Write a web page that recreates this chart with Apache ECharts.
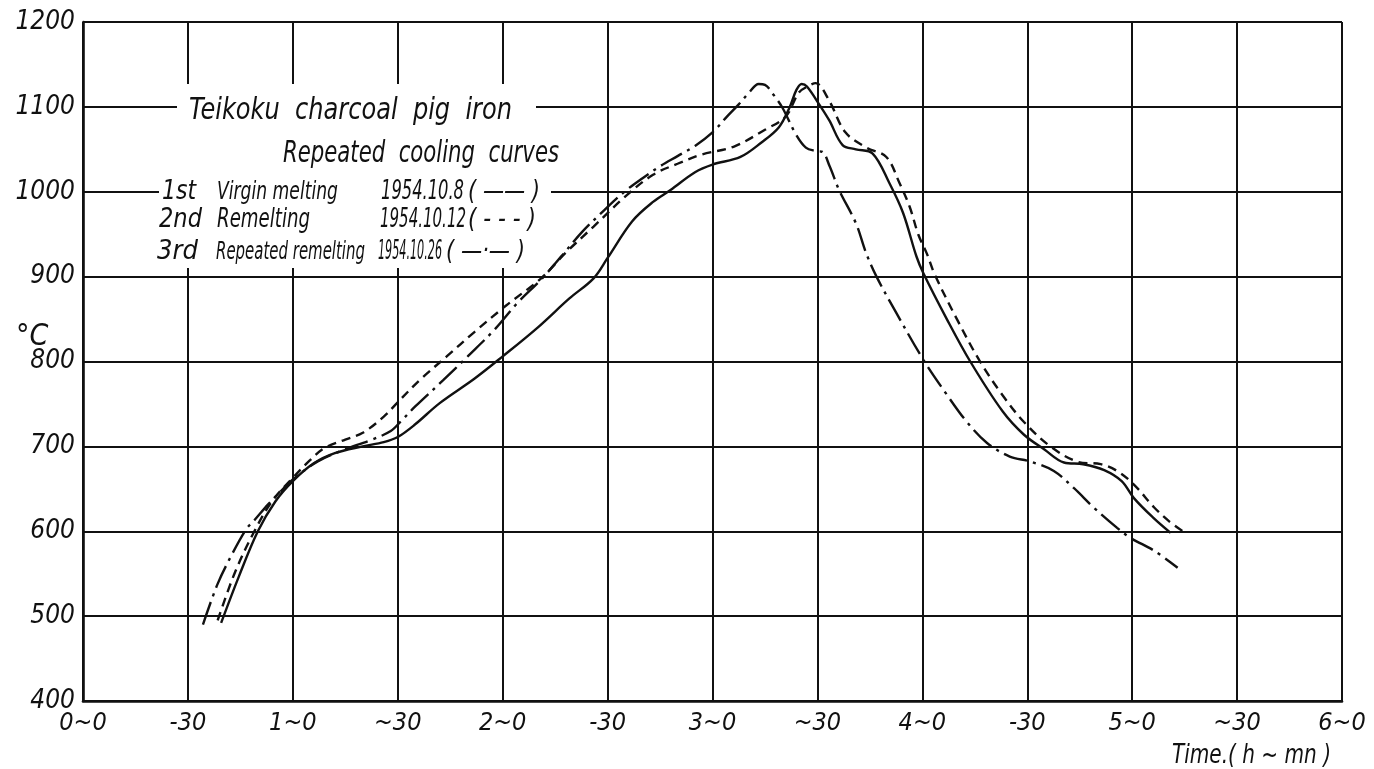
<!DOCTYPE html>
<html>
<head>
<meta charset="utf-8">
<title>Teikoku charcoal pig iron - repeated cooling curves</title>
<script src="https://cdn.jsdelivr.net/npm/echarts@6/dist/echarts.min.js"></script>
<style>
  html, body { margin: 0; padding: 0; background: #fff; }
  #chart { width: 1374px; height: 769px; }
</style>
</head>
<body>
<div id="chart"></div>
<script>
// time in minutes from start, temperature in °C
const t1st = [39.5, 44.5, 50, 55, 60, 66, 72, 80, 86, 90, 95, 102, 112, 120, 130, 139, 146, 150, 157, 163, 168, 175, 180, 188, 194, 199, 202, 204, 205.5, 207, 210.5, 213.4, 217.2, 221, 225.8, 230.6, 234.5, 238.3, 240.3, 247, 253.7, 263, 269, 275, 280.5, 286, 292, 297, 300.5, 306, 311];
const c1st = [492, 546, 600, 635, 659, 680, 692, 700, 705, 711, 726, 751, 780, 806, 840, 874, 898, 922, 965, 988, 1002, 1023, 1032, 1041, 1058, 1076, 1099, 1120, 1127, 1124, 1103, 1084, 1055, 1050, 1045, 1010, 975, 924, 904, 850, 800, 741, 714, 696, 681, 679, 672, 659, 639, 616, 598];

const t2nd = [38.5, 43.5, 49, 54, 60, 65, 69, 75, 80, 86, 90, 96.5, 104, 112, 121, 131, 138, 146, 155.5, 163, 170, 177, 186, 195, 201, 204.7, 207.6, 209.5, 213.4, 218, 224, 229.7, 233.5, 236.4, 238.9, 241.2, 243.6, 250, 256.5, 263, 269, 276.6, 284.3, 291, 295.7, 300.5, 306.3, 310.5, 314.5];
const c2nd = [495, 552, 600, 635, 663, 684, 698, 708, 716, 735, 752, 779, 806, 835, 866, 898, 928, 959, 996, 1020, 1033, 1044, 1053, 1073, 1089, 1117, 1125, 1128, 1107, 1070, 1052, 1041, 1010, 982, 949, 928, 902, 849, 800, 760, 729, 700, 682, 679, 671, 655, 628, 612, 600];

const t3rd = [34.3, 38.5, 42.5, 46.6, 49, 53, 57.5, 60, 67, 74.6, 82, 88, 91, 95, 103, 110, 118, 124, 131.3, 137, 142.8, 149, 154.8, 160, 165, 170, 175, 180, 184, 187.5, 190.5, 193.2, 195, 197.5, 200, 203.8, 206.7, 209.5, 211.4, 213.5, 216.2, 221, 223.9, 226.9, 232.6, 240.3, 247, 252.7, 258.5, 265, 271, 277.6, 283.3, 289, 295.7, 299.6, 306.3, 313];
const c3rd = [490, 538, 572, 602, 613, 632, 651, 661, 682, 696, 707, 718, 730, 747, 778, 806, 839, 868, 898, 925, 953, 978, 1000, 1016, 1030, 1042, 1054, 1070, 1088, 1103, 1117, 1127, 1126, 1114, 1099, 1068, 1052, 1048, 1047, 1030, 1002, 963, 928, 900, 857, 802, 761, 729, 704, 688, 682, 671, 651, 628, 604, 592, 577, 557];

// x ticks every 30 min, labelled h~mn
const xTickLabels = ['0~0', '-30', '1~0', '~30', '2~0', '-30', '3~0', '~30', '4~0', '-30', '5~0', '~30', '6~0'];

const FONT = '"DejaVu Sans Condensed", "Liberation Sans Narrow", "DejaVu Sans", sans-serif';
const INK = '#111';

const zip = (ts, cs) => ts.map((t, i) => [t, cs[i]]);

// hand-lettered text on the plate is narrow: squeeze each string to the width it takes there
const measureCtx = document.createElement('canvas').getContext('2d');
const txt = (text, x, y, size, width, align) => {
  const font = 'italic ' + size + 'px ' + FONT;
  measureCtx.font = font;
  const w = measureCtx.measureText(text).width;
  return {
    type: 'text',
    x: x,
    y: y,
    z: 6,
    scaleX: width ? width / w : 1,
    style: {
      text: text,
      font: font,
      fill: INK,
      align: align || 'left',
      verticalAlign: 'middle'
    }
  };
};

const lineSeries = (name, data, dash) => ({
  name: name,
  type: 'line',
  data: data,
  z: 10,
  symbol: 'none',
  smooth: 0.35,
  lineStyle: { color: INK, width: 2.4, type: dash }
});

const chart = echarts.init(document.getElementById('chart'));

const option = {
  backgroundColor: '#fff',
  animation: false,
  grid: { left: 83, right: 32, top: 22, bottom: 68, containLabel: false, outerBoundsMode: 'none' },
  xAxis: {
    type: 'value',
    min: 0,
    max: 360,
    interval: 30,
    axisLine: { onZero: false, lineStyle: { color: INK, width: 2.6 } },
    axisTick: { show: false },
    splitLine: { show: true, lineStyle: { color: INK, width: 2 } },
    axisLabel: {
      margin: 10,
      fontFamily: FONT,
      fontStyle: 'italic',
      fontSize: 25,
      color: INK,
      formatter: (v) => xTickLabels[Math.round(v / 30)]
    }
  },
  yAxis: {
    type: 'value',
    min: 400,
    max: 1200,
    interval: 100,
    axisLine: { show: true, lineStyle: { color: INK, width: 2.6 } },
    axisTick: { show: false },
    splitLine: { show: true, lineStyle: { color: INK, width: 2 } },
    axisLabel: {
      margin: 8,
      fontFamily: FONT,
      fontStyle: 'italic',
      fontSize: 26,
      color: INK,
      formatter: (v) => String(v)
    }
  },
  graphic: [
    // the title block blanks out the grid behind it, as on the plate
    { type: 'rect', z: 5, shape: { x: 177, y: 84, width: 359, height: 51 }, style: { fill: '#fff' } },
    { type: 'rect', z: 5, shape: { x: 159, y: 135, width: 392, height: 133 }, style: { fill: '#fff' } },
    txt('Teikoku  charcoal  pig  iron', 189, 111, 31, 323),
    txt('Repeated  cooling  curves', 283, 154, 30, 276),
    txt('1st', 162, 192, 26, 34),
    txt('Virgin melting', 217, 192, 25, 121),
    txt('1954.10.8', 381, 192, 26, 83),
    txt('( —— )', 468, 192, 26, 72),
    txt('2nd', 159, 220, 26, 43),
    txt('Remelting', 217, 220, 26, 93),
    txt('1954.10.12', 380, 220, 26, 86),
    txt('( - - - )', 468, 220, 26, 68),
    txt('3rd', 157, 252, 26, 41),
    txt('Repeated remelting', 216, 252, 25, 149),
    txt('1954.10.26', 378, 252, 26, 64),
    txt('( —·— )', 446, 252, 26, 79),
    txt('°C', 16, 337, 30, 0),
    txt('Time.( h ~ mn )', 1331, 756, 26, 159, 'right')
  ],
  series: [
    lineSeries('1st Virgin melting 1954.10.8', zip(t1st, c1st), 'solid'),
    lineSeries('2nd Remelting 1954.10.12', zip(t2nd, c2nd), [9, 6]),
    lineSeries('3rd Repeated remelting 1954.10.26', zip(t3rd, c3rd), [24, 6, 3, 6])
  ]
};

chart.setOption(option);
</script>
</body>
</html>
